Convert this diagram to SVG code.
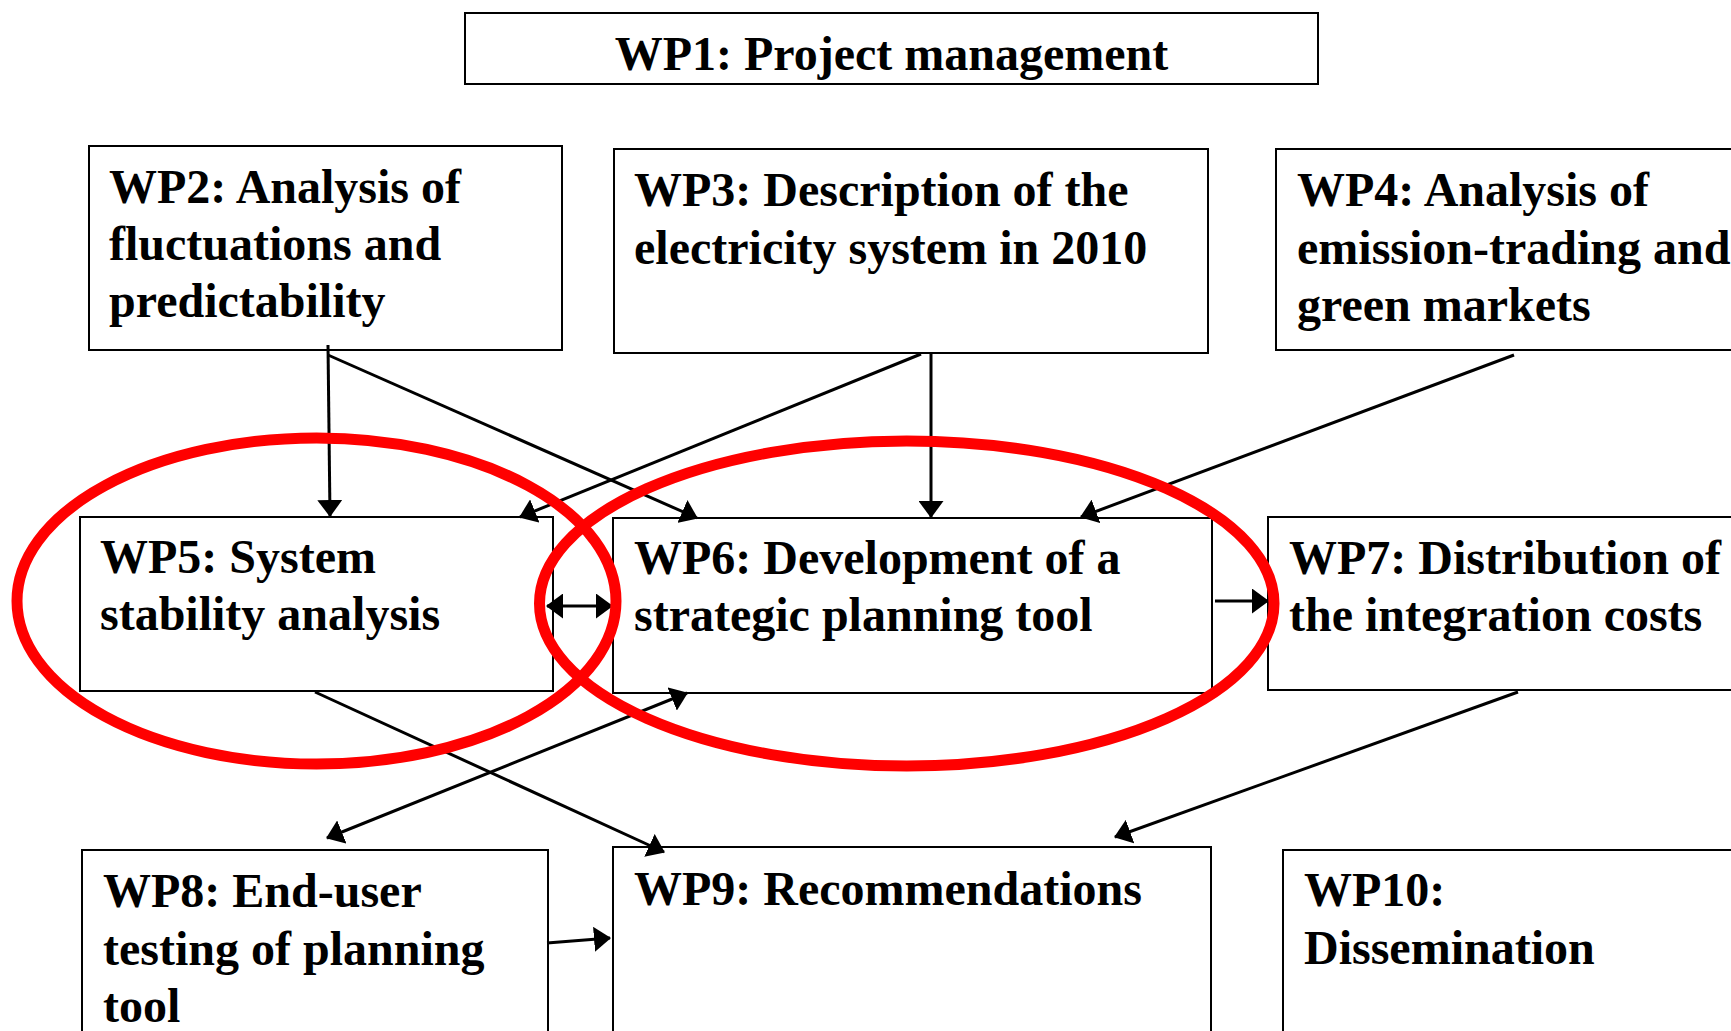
<svg xmlns="http://www.w3.org/2000/svg" width="1731" height="1031" viewBox="0 0 1731 1031">
<style>
.box{fill:#fff;stroke:#000;stroke-width:2}
.t{font-family:"Liberation Serif","Times New Roman",serif;font-weight:bold;font-size:48px;fill:#000}
.c{stroke:#000;stroke-width:3;fill:none}
.ring{fill:none;stroke:#ff0000;stroke-width:11}
</style>
<defs>
<marker id="ah" viewBox="0 0 17 25" refX="16" refY="12.5" markerWidth="17" markerHeight="25" markerUnits="userSpaceOnUse" orient="auto-start-reverse">
<path d="M0,0 L17,12.5 L0,25 Z" fill="#000"/>
</marker>
</defs>
<rect width="1731" height="1031" fill="#fff"/>
<g id="wp1"><rect class="box" x="465" y="13" width="853" height="71"/><text class="t" x="891.5" y="70" text-anchor="middle">WP1: Project management</text></g>
<g id="wp2"><rect class="box" x="89" y="146" width="473" height="204"/><text class="t" x="109" y="203">WP2: Analysis of</text><text class="t" x="109" y="260">fluctuations and</text><text class="t" x="109" y="317">predictability</text></g>
<g id="wp3"><rect class="box" x="614" y="149" width="594" height="204"/><text class="t" x="634" y="206">WP3: Description of the</text><text class="t" x="634" y="264">electricity system in 2010</text></g>
<g id="wp4"><rect class="box" x="1276" y="149" width="470" height="201"/><text class="t" x="1297" y="206">WP4: Analysis of</text><text class="t" x="1297" y="264">emission-trading and</text><text class="t" x="1297" y="321">green markets</text></g>
<g id="wp5"><rect class="box" x="80" y="517" width="473" height="174"/><text class="t" x="100" y="573">WP5: System</text><text class="t" x="100" y="630">stability analysis</text></g>
<g id="wp6"><rect class="box" x="613" y="518" width="599" height="175"/><text class="t" x="634" y="574">WP6: Development of a</text><text class="t" x="634" y="631">strategic planning tool</text></g>
<g id="wp7"><rect class="box" x="1268" y="517" width="480" height="173"/><text class="t" x="1289" y="574">WP7: Distribution of</text><text class="t" x="1289" y="631">the integration costs</text></g>
<g id="wp8"><rect class="box" x="82" y="850" width="466" height="200"/><text class="t" x="103" y="907">WP8: End-user</text><text class="t" x="103" y="965">testing of planning</text><text class="t" x="103" y="1022">tool</text></g>
<g id="wp9"><rect class="box" x="613" y="847" width="598" height="200"/><text class="t" x="634" y="905">WP9: Recommendations</text></g>
<g id="wp10"><rect class="box" x="1283" y="850" width="460" height="200"/><text class="t" x="1304" y="906">WP10:</text><text class="t" x="1304" y="964">Dissemination</text></g>
<g id="connectors">
<line class="c" x1="328" y1="345" x2="330" y2="516" marker-end="url(#ah)"/>
<line class="c" x1="328" y1="355" x2="697" y2="518" marker-end="url(#ah)"/>
<line class="c" x1="921" y1="354" x2="520" y2="517" marker-end="url(#ah)"/>
<line class="c" x1="931" y1="353" x2="931" y2="517" marker-end="url(#ah)"/>
<line class="c" x1="1514" y1="355" x2="1081" y2="517" marker-end="url(#ah)"/>
<line class="c" x1="547" y1="606" x2="612" y2="606" marker-start="url(#ah)" marker-end="url(#ah)"/>
<line class="c" x1="1215" y1="601" x2="1268" y2="601" marker-end="url(#ah)"/>
<line class="c" x1="315" y1="692" x2="664" y2="852" marker-end="url(#ah)"/>
<line class="c" x1="327" y1="838" x2="687" y2="693" marker-start="url(#ah)" marker-end="url(#ah)"/>
<line class="c" x1="1518" y1="692" x2="1115" y2="837" marker-end="url(#ah)"/>
<line class="c" x1="547" y1="943" x2="610" y2="938" marker-end="url(#ah)"/>
</g>
<g id="highlights">
<ellipse class="ring" cx="316.5" cy="601" rx="299.5" ry="163"/>
<ellipse class="ring" cx="906.75" cy="603.5" rx="367.25" ry="162.5"/>
</g>
</svg>
